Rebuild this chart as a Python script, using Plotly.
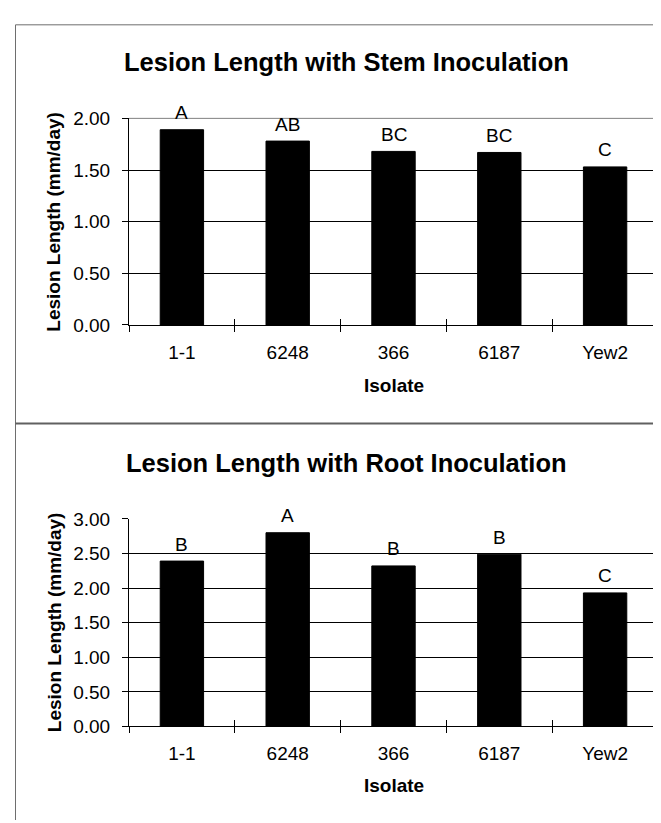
import plotly.graph_objects as go

isolates = ["1-1", "6248", "366", "6187", "Yew2"]
stem_values = [1.89, 1.78, 1.68, 1.67, 1.53]
stem_groups = ["A", "AB", "BC", "BC", "C"]
root_values = [2.39, 2.80, 2.32, 2.49, 1.93]
root_groups = ["B", "A", "B", "B", "C"]

stem_title = "Lesion Length with Stem Inoculation"
root_title = "Lesion Length with Root Inoculation"
y_title = "Lesion Length (mm/day)"
x_title = "Isolate"

W, H = 661, 823
FONT = "Liberation Sans, Arial, sans-serif"

def px_x(v):
    return v / W

def px_y(v):
    return 1 - v / H

top_dom = [px_y(315), px_y(103)]
bot_dom = [px_y(727), px_y(514)]
x_dom = [px_x(121), px_x(650)]

fig = go.Figure()
fig.add_trace(go.Bar(x=isolates, y=stem_values, xaxis="x", yaxis="y",
                     marker=dict(color="black", line=dict(color="black", width=1)),
                     showlegend=False, hoverinfo="skip"))
fig.add_trace(go.Bar(x=isolates, y=root_values, xaxis="x2", yaxis="y2",
                     marker=dict(color="black", line=dict(color="black", width=1)),
                     showlegend=False, hoverinfo="skip"))
# ghost traces for the upward half of the cross tick marks
fig.add_trace(go.Scatter(x=isolates, y=stem_values, xaxis="x3", yaxis="y", mode="markers",
                         marker=dict(opacity=0), showlegend=False, hoverinfo="skip"))
fig.add_trace(go.Scatter(x=isolates, y=root_values, xaxis="x4", yaxis="y2", mode="markers",
                         marker=dict(opacity=0), showlegend=False, hoverinfo="skip"))

tickfont = dict(family=FONT, size=19, color="black")

def xaxis_main(anchor):
    return dict(domain=x_dom, anchor=anchor, type="category", categoryorder="array",
                categoryarray=isolates, range=[-0.5, 4.5], tickson="boundaries",
                ticks="outside", ticklen=6, tickcolor="black", tickwidth=1,
                showline=True, linecolor="black", linewidth=1, showgrid=False,
                tickfont=tickfont, ticklabelstandoff=10, fixedrange=True)

def xaxis_over(over, anchor):
    return dict(overlaying=over, anchor=anchor, type="category", categoryorder="array",
                categoryarray=isolates, range=[-0.5, 4.5], tickson="boundaries",
                ticks="inside", ticklen=6, tickcolor="black", tickwidth=1,
                showline=False, showgrid=False, showticklabels=False)

def yaxis(dom, anchor, rng):
    return dict(domain=dom, anchor=anchor, range=rng, dtick=0.5, tick0=0, tickformat=".2f",
                showgrid=True, gridcolor="black", gridwidth=1, zeroline=False,
                showline=True, linecolor="black", linewidth=1,
                ticks="outside", ticklen=6, tickcolor="black", tickwidth=1,
                tickfont=tickfont, ticklabelstandoff=8)

annotations = []
# category axes: annotate by category index so numeric-looking names are not read as numbers
for i, (v, g) in enumerate(zip(stem_values, stem_groups)):
    annotations.append(dict(x=i, y=v, xref="x", yref="y", text=g, showarrow=False,
                            yshift=17, yanchor="middle", font=tickfont))
for i, (v, g) in enumerate(zip(root_values, root_groups)):
    annotations.append(dict(x=i, y=v, xref="x2", yref="y2", text=g, showarrow=False,
                            yshift=17, yanchor="middle", font=tickfont))

title_font = dict(family=FONT, size=25.5, color="black")
axt_font = dict(family=FONT, size=19, color="black")
for ty, txt in [(45, stem_title), (457, root_title)]:
    annotations.append(dict(x=px_x(338.5), y=px_y(ty), xref="paper", yref="paper", text="<b>%s</b>" % txt,
                            showarrow=False, xanchor="center", yanchor="middle", font=title_font))
for ty in [377, 788]:
    annotations.append(dict(x=px_x(385.5), y=px_y(ty), xref="paper", yref="paper", text="<b>%s</b>" % x_title,
                            showarrow=False, xanchor="center", yanchor="middle", font=axt_font))
for ty in [209, 620]:
    annotations.append(dict(x=px_x(46), y=px_y(ty), xref="paper", yref="paper", text="<b>%s</b>" % y_title,
                            showarrow=False, xanchor="center", yanchor="middle", textangle=-90, font=axt_font))

border = dict(color="#6e6e6e", width=1)
shapes = [
    dict(type="line", xref="paper", yref="paper", x0=px_x(7.5), x1=1, y0=px_y(7), y1=px_y(7), line=border),
    dict(type="line", xref="paper", yref="paper", x0=px_x(7.5), x1=px_x(7.5), y0=px_y(7), y1=0, line=border),
    dict(type="line", xref="paper", yref="paper", x0=px_x(7.5), x1=1, y0=px_y(416), y1=px_y(416),
         line=dict(color="#606060", width=2)),
    dict(type="line", xref="x domain", yref="y domain", x0=0, x1=1, y0=1, y1=1,
         line=dict(color="#808080", width=1)),
    dict(type="line", xref="x domain", yref="y domain", x0=1, x1=1, y0=0, y1=1,
         line=dict(color="#808080", width=1)),
    dict(type="line", xref="x2 domain", yref="y2 domain", x0=1, x1=1, y0=0, y1=1,
         line=dict(color="#808080", width=1)),
]

fig.update_layout(
    width=W, height=H, margin=dict(l=0, r=0, t=0, b=0),
    paper_bgcolor="white", plot_bgcolor="white",
    bargap=0.59, showlegend=False,
    font=dict(family=FONT, color="black"),
    xaxis=xaxis_main("y"), xaxis2=xaxis_main("y2"),
    xaxis3=xaxis_over("x", "y"), xaxis4=xaxis_over("x2", "y2"),
    yaxis=yaxis(top_dom, "x", [0, 2]), yaxis2=yaxis(bot_dom, "x2", [0, 3]),
    annotations=annotations, shapes=shapes,
)

fig.write_html("out.html", config={"displayModeBar": False})
